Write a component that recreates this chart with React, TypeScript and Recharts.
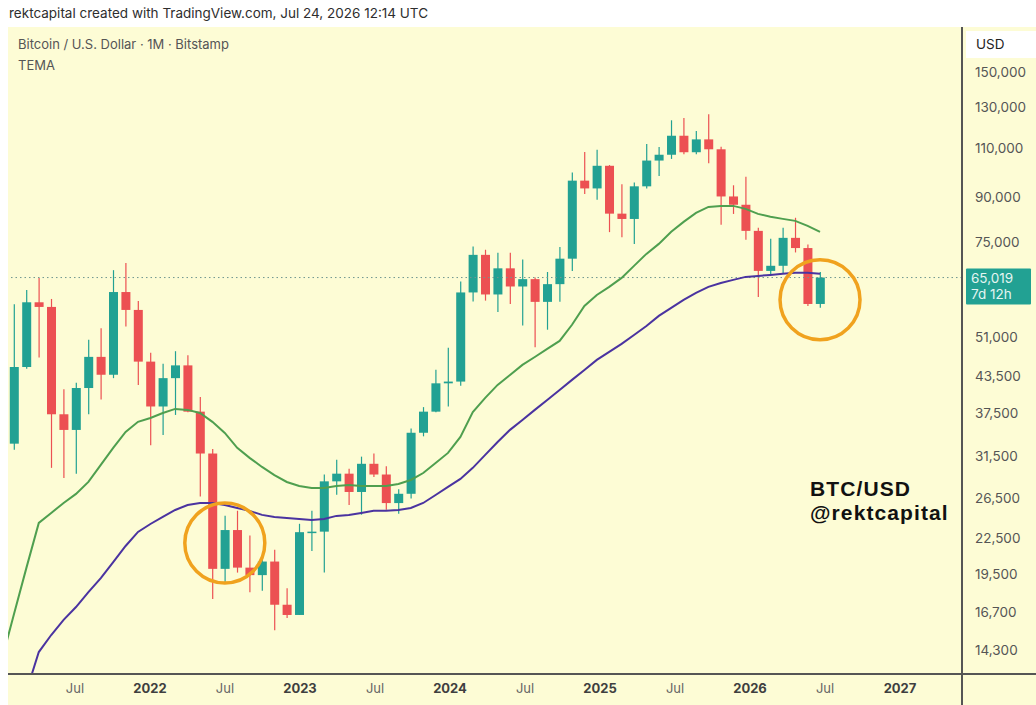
import React from "react";
import {
  Bar,
  ComposedChart,
  Line,
  ReferenceDot,
  ReferenceLine,
  XAxis,
  YAxis,
} from "recharts";

// monthly candles, Bitstamp BTC/USD (Jan 2021 only carries the TEMA value)
const months = [
  "2021-01", "2021-02", "2021-03", "2021-04", "2021-05", "2021-06", "2021-07", "2021-08", "2021-09", "2021-10", "2021-11", "2021-12",
  "2022-01", "2022-02", "2022-03", "2022-04", "2022-05", "2022-06", "2022-07", "2022-08", "2022-09", "2022-10", "2022-11", "2022-12",
  "2023-01", "2023-02", "2023-03", "2023-04", "2023-05", "2023-06", "2023-07", "2023-08", "2023-09", "2023-10", "2023-11", "2023-12",
  "2024-01", "2024-02", "2024-03", "2024-04", "2024-05", "2024-06", "2024-07", "2024-08", "2024-09", "2024-10", "2024-11", "2024-12",
  "2025-01", "2025-02", "2025-03", "2025-04", "2025-05", "2025-06", "2025-07", "2025-08", "2025-09", "2025-10", "2025-11", "2025-12",
  "2026-01", "2026-02", "2026-03", "2026-04", "2026-05", "2026-06", "2026-07",
];

const open = [
  null, 33100, 45200, 58800, 57700, 37300, 35000, 41500, 47100, 43800, 61300, 57000,
  46200, 38500, 43200, 45500, 37700, 31800, 19900, 23300, 20000, 19400, 20500, 17200,
  16500, 23100, 23150, 28400, 29300, 27200, 30500, 29200, 26000, 27000, 34600, 37700,
  42300, 42600, 61200, 71300, 60700, 67500, 62700, 64600, 58900, 63300, 70200, 96400,
  93400, 102400, 84300, 82500, 94200, 104600, 107100, 115700, 108200, 114000, 109500, 90400,
  87400, 78600, 66800, 68200, 76400, 73300, 58400,
];

const high = [
  null, 58350, 61800, 64900, 59600, 41300, 42400, 50500, 52900, 67000, 69000, 59100,
  47900, 45800, 48200, 47400, 40000, 32400, 24700, 25200, 22800, 21000, 21500, 18400,
  23900, 25200, 29200, 31000, 29900, 31400, 31800, 30200, 27500, 35200, 38400, 44700,
  48900, 64000, 73800, 72800, 71900, 71900, 70000, 65000, 66500, 73600, 99600, 108300,
  109300, 102700, 95000, 95700, 111900, 110500, 123200, 124400, 117900, 126200, 110600, 94600,
  97900, 79600, 76100, 79600, 82900, 74400, 66500,
];

const low = [
  null, 32300, 44900, 47000, 30000, 28800, 29300, 37300, 39600, 43200, 53300, 42000,
  32900, 34300, 37200, 37600, 26700, 17600, 18800, 19600, 18100, 18200, 15500, 16300,
  16500, 21400, 19600, 26900, 25800, 24800, 28900, 25300, 24900, 26500, 34100, 37600,
  38500, 41900, 59000, 59200, 56500, 58400, 53500, 49000, 52600, 58900, 66800, 91300,
  89200, 78200, 76600, 74500, 93400, 98200, 105300, 107300, 107300, 103500, 80600, 84200,
  75800, 60100, 65600, 66100, 72000, 57900, 57500,
];

const close = [
  null, 45200, 58800, 57700, 37300, 35000, 41500, 47100, 43800, 61300, 57000, 46200,
  38500, 43200, 45500, 37700, 31800, 19900, 23300, 20000, 19400, 20500, 17200, 16500,
  23100, 23150, 28400, 29300, 27200, 30500, 29200, 26000, 27000, 34600, 37700, 42300,
  42600, 61200, 71300, 60700, 67500, 62700, 64600, 58900, 63300, 70200, 96400, 93400,
  102400, 84300, 82500, 94200, 104600, 107100, 115700, 108200, 114000, 109500, 90400, 87400,
  78600, 66800, 68200, 76400, 73300, 58400, 65019,
];

// green TEMA (faster)
const temaFast = [
  13700, 16570, 19980, 23990, 24980, 26010, 26990, 28330, 30360, 32540, 34720, 36170,
  36740, 37500, 38120, 37970, 37500, 36170, 34580, 32540, 31240, 30110, 29140, 28330,
  27870, 27650, 27650, 27870, 27980, 27870, 27870, 27870, 28100, 28560, 29380, 30610,
  31880, 34020, 37650, 39870, 42030, 43770, 45590, 47080, 48650, 50260, 53660, 57940,
  60580, 62600, 64930, 68180, 71580, 74550, 78300, 81530, 84570, 86650, 87000, 87000,
  85950, 84220, 83220, 82530, 81860, 80210, 78300,
];

// purple TEMA (slower)
const temaSlow = [
  null, null, 12100, 14190, 15210, 16170, 17040, 18110, 19170, 20460, 21840, 23120,
  23880, 24570, 25280, 25800, 26010, 26010, 25800, 25490, 25190, 24780, 24570, 24470,
  24370, 24270, 24370, 24680, 24780, 24980, 25190, 25190, 25280, 25490, 26010, 26870,
  27760, 28680, 30000, 31620, 33330, 35010, 36450, 37970, 39540, 41180, 42900, 44670,
  46520, 48060, 49650, 51490, 53410, 55640, 57480, 59370, 61080, 62600, 63610, 64400,
  65190, 65450, 65720, 66000, 66270, 66270, 66000,
];

const priceTicks = [
  14300, 16700, 19500, 22500, 26500, 31500, 37500, 43500, 51000, 75000, 90000,
  110000, 130000, 150000,
];
const tickMonths = [6, 12, 18, 24, 30, 36, 42, 48, 54, 60, 66, 72];
const tickLabels = ["Jul", "2022", "Jul", "2023", "Jul", "2024", "Jul", "2025", "Jul", "2026", "Jul", "2027"];

const lastPrice = 65019;
const countdown = "7d 12h";
const circledMonths = ["2022-07", "2026-07"];
const circledPrices = [22100, 59400];

const TEAL = "#22a193";
const RED = "#ec5052";
const BG = "#fdfcd5";
const FONT = "Inter, 'Liberation Sans', sans-serif";

const data = months.map((m, i) => ({
  i,
  month: m,
  open: open[i],
  high: high[i],
  low: low[i],
  close: close[i],
  fast: temaFast[i],
  slow: temaSlow[i],
}));

const Candle = (props: any) => {
  const { x, y, width, height, payload } = props;
  if (!payload || payload.open == null) return null;
  const { open: o, close: c, high: h, low: l } = payload;
  const color = c >= o ? TEAL : RED;
  const span = Math.log(h) - Math.log(l);
  const toY = (v: number) => y + (height * (Math.log(h) - Math.log(v))) / span;
  const cx = x + width / 2;
  const top = toY(Math.max(o, c));
  const bot = toY(Math.min(o, c));
  return (
    <g>
      <line x1={cx} x2={cx} y1={y} y2={y + height} stroke={color} strokeWidth={1.2} />
      <rect x={x} y={top} width={width} height={Math.max(bot - top, 1.5)} fill={color} />
    </g>
  );
};

const MonthTick = ({ x, y, payload }: any) => {
  const k = tickMonths.indexOf(payload.value);
  const label = tickLabels[k];
  const isYear = label !== "Jul";
  // TradingView's time labels sit a touch right of the candle centres, more so further right
  return (
    <text
      x={x + k * 0.6 - 1}
      y={y + 11}
      textAnchor="middle"
      fontSize={13}
      fontFamily={FONT}
      fontWeight={isYear ? 700 : 400}
      fill={isYear ? "#3f3f3f" : "#666"}
    >
      {label}
    </text>
  );
};

const PriceTag = ({ viewBox }: any) => {
  if (!viewBox) return null;
  const bx = viewBox.x + viewBox.width + 4;
  const by = viewBox.y - 9;
  return (
    <g>
      <rect x={bx} y={by} width={65} height={36} fill={TEAL} rx={1} />
      <text x={bx + 5} y={by + 14} fontSize={13.5} fontFamily={FONT} fill="#e4f5f1">
        {lastPrice.toLocaleString("en-US")}
      </text>
      <text x={bx + 5} y={by + 30} fontSize={13.5} fontFamily={FONT} fill="#e4f5f1">
        {countdown}
      </text>
    </g>
  );
};

const brandStyle: React.CSSProperties = {
  position: "absolute",
  left: 810,
  fontSize: 21,
  fontWeight: 700,
  letterSpacing: 1.1,
  color: "#111",
  lineHeight: "24px",
  height: 24,
  fontFamily: "'Liberation Sans', Arial, sans-serif",
};

export default function App() {
  return (
    <div
      style={{
        position: "absolute",
        left: 0,
        top: 0,
        width: 1036,
        height: 705,
        background: "#fff",
        overflow: "hidden",
        fontFamily: FONT,
      }}
    >
      <div style={{ position: "absolute", left: 8, top: 27, width: 1028, height: 678, background: BG }} />
      <div style={{ position: "absolute", left: 9, top: 5, fontSize: 13.5, color: "#2e2e2e" }}>
        rektcapital created with TradingView.com, Jul 24, 2026 12:14 UTC
      </div>
      <div style={{ position: "absolute", left: 0, top: 0 }}>
        <ComposedChart
          width={1036}
          height={705}
          data={data}
          margin={{ top: 27, right: 0, bottom: 0, left: 8 }}
        >
          <XAxis
            type="number"
            dataKey="i"
            domain={[0.516, 77.45]}
            allowDataOverflow
            ticks={tickMonths}
            tick={<MonthTick />}
            tickLine={false}
            axisLine={false}
            height={31}
          />
          <YAxis
            orientation="right"
            scale="log"
            domain={[12980, 180000]}
            allowDataOverflow
            ticks={priceTicks}
            tickFormatter={(v: number) => v.toLocaleString("en-US")}
            tick={{ fontSize: 13.5, fill: "#555", fontFamily: FONT, textAnchor: "start" }}
            tickLine={false}
            axisLine={false}
            tickMargin={7}
            width={74}
          />
          <ReferenceLine
            y={lastPrice}
            stroke="#6f978f"
            strokeDasharray="1.5 3"
            label={(p: any) => <PriceTag {...p} />}
          />
          <Line
            dataKey="fast"
            stroke="#4f9f4f"
            strokeWidth={2}
            dot={false}
            isAnimationActive={false}
          />
          <Line
            dataKey="slow"
            stroke="#4a33a0"
            strokeWidth={2}
            dot={false}
            isAnimationActive={false}
          />
          <Bar
            dataKey={(d: any) => (d.open == null ? null : [d.low, d.high])}
            barSize={9}
            shape={<Candle />}
            isAnimationActive={false}
          />
          {circledMonths.map((m, k) => (
            <ReferenceDot
              key={m}
              x={months.indexOf(m)}
              y={circledPrices[k]}
              r={40}
              fill="none"
              stroke="#f0a21e"
              strokeWidth={3.5}
            />
          ))}
        </ComposedChart>
      </div>
      <div style={{ position: "absolute", left: 961, top: 27, width: 1.5, height: 678, background: "#555" }} />
      <div style={{ position: "absolute", left: 8, top: 673, width: 1028, height: 1.5, background: "#555" }} />
      <div
        style={{
          position: "absolute",
          left: 966,
          top: 31,
          width: 70,
          height: 27,
          background: "#fff",
          fontSize: 13.5,
          color: "#222",
          lineHeight: "27px",
          paddingLeft: 10,
          boxSizing: "border-box",
        }}
      >
        USD
      </div>
      <div style={{ position: "absolute", left: 18, top: 36, fontSize: 13, color: "#555" }}>
        Bitcoin / U.S. Dollar · 1M · Bitstamp
      </div>
      <div style={{ position: "absolute", left: 18, top: 57, fontSize: 13, color: "#555" }}>TEMA</div>
      <div style={{ ...brandStyle, top: 477 }}>BTC/USD</div>
      <div style={{ ...brandStyle, top: 501 }}>@rektcapital</div>
    </div>
  );
}
